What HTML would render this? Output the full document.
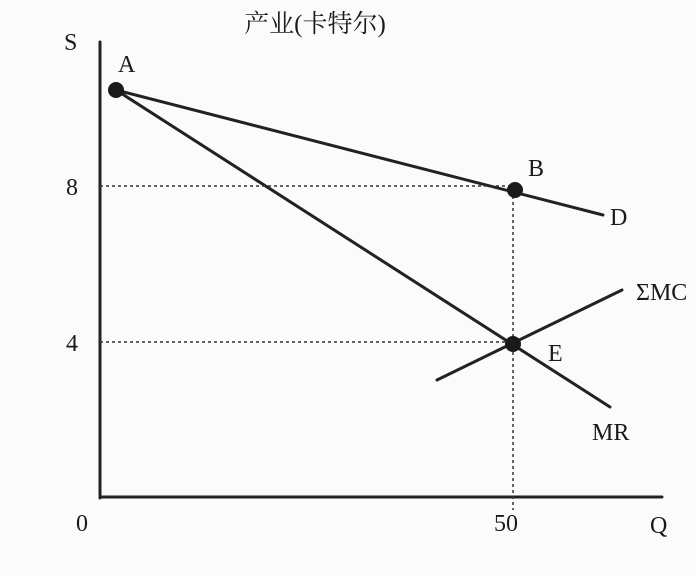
<!DOCTYPE html>
<html><head><meta charset="utf-8"><style>
html,body{margin:0;padding:0;background:#fbfbfb;}
svg{display:block;}
text{font-family:"Liberation Serif","Noto Serif CJK SC",serif;fill:#1a1a1a;}
</style></head><body>
<svg width="696" height="576" viewBox="0 0 696 576" xmlns="http://www.w3.org/2000/svg">
<rect width="696" height="576" fill="#fbfbfb"/>
<text x="315" y="32" font-size="25" text-anchor="middle" font-family="'Noto Sans CJK SC',sans-serif">产业(卡特尔)</text>
<g stroke="#222" stroke-width="3" fill="none" stroke-linecap="round">
<line x1="100" y1="42" x2="100" y2="498"/>
<line x1="100" y1="497" x2="662" y2="497"/>
<line x1="116" y1="90" x2="603" y2="215"/>
<line x1="116" y1="90" x2="610" y2="407"/>
<line x1="437" y1="380" x2="622" y2="290"/>
</g>
<g stroke="#333" stroke-width="1.5" stroke-dasharray="3,3" fill="none">
<line x1="100" y1="186" x2="512" y2="186"/>
<line x1="100" y1="342" x2="512" y2="342"/>
<line x1="513" y1="190" x2="513" y2="510"/>
</g>
<g fill="#1a1a1a">
<circle cx="116" cy="90" r="8"/>
<circle cx="515" cy="190" r="8"/>
<circle cx="513" cy="344" r="8"/>
</g>
<g font-size="24">
<text x="64" y="50">S</text>
<text x="118" y="72">A</text>
<text x="66" y="195">8</text>
<text x="66" y="351">4</text>
<text x="76" y="531">0</text>
<text x="494" y="531">50</text>
<text x="650" y="533">Q</text>
<text x="528" y="176">B</text>
<text x="610" y="225">D</text>
<text x="548" y="361">E</text>
<text x="636" y="300">ΣMC</text>
<text x="592" y="440">MR</text>
</g>
</svg>
</body></html>
